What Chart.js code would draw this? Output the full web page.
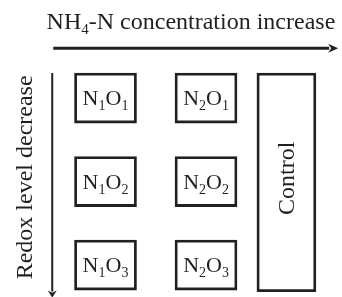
<!DOCTYPE html>
<html><head><meta charset="utf-8">
<script src="https://cdn.jsdelivr.net/npm/chart.js@4.4.0/dist/chart.umd.min.js"></script>
<style>html,body{margin:0;padding:0;background:#fff;overflow:hidden}#wrap{width:342px;height:297px;position:relative}</style>
</head><body><div id="wrap"><canvas id="c"></canvas></div>
<script>
// ---- data ----
const columns = ['N1', 'N2'];
const columnLevels = [1, 2];          // NH4-N level position of each treatment column
const rows = ['O1', 'O2', 'O3'];
const rowLevels = [1, 2, 3];          // redox level position of each row
const boxHalfHeight = 0.3;
const controlLabel = 'Control';
const controlLevel = 2.8;
const controlSpan = [0.7, 3.32];
const xTitle = [['NH', false], ['4', true], ['-N concentration increase', false]];
const xTitlePos = [1.85, 0.17];
const yTitle = 'Redox level decrease';
const yTitlePos = [0.19, 1.95];
const hArrow = {from: [0.48, 0.405], to: [3.315, 0.405]};
const vArrow = {from: [0.47, 0.70], to: [0.47, 3.39]};

const INK = '#231f20';
const FONT = "'Liberation Serif', 'Times New Roman', serif";
const MAIN = 24, SUB = 15, SUBDROP = 5;
const BOXF = 22, BOXSUB = 14, BOXDROP = 5;
const boxStyle = {backgroundColor: '#ffffff', borderColor: INK, borderWidth: 2.8, borderSkipped: false, grouped: false};

const rowDatasets = rows.map((r, ri) => Object.assign({
  label: r,
  data: columns.map((c, ci) => ({x: columnLevels[ci], y: [rowLevels[ri] - boxHalfHeight, rowLevels[ri] + boxHalfHeight]})),
  labels: columns.map(c => [[c[0], false], [c.slice(1), true], [r[0], false], [r.slice(1), true]]),
  barThickness: 62
}, boxStyle));
const controlDataset = Object.assign({
  label: controlLabel,
  data: [{x: controlLevel, y: controlSpan}],
  vertical: controlLabel,
  barThickness: 59
}, boxStyle);

function drawSegs(ctx, segs, cx, baseY, big, small, drop) {
  let w = 0;
  segs.forEach(([t, sub]) => { ctx.font = (sub ? small : big) + 'px ' + FONT; w += ctx.measureText(t).width; });
  let x = cx - w / 2;
  ctx.textAlign = 'left'; ctx.textBaseline = 'alphabetic';
  segs.forEach(([t, sub]) => {
    ctx.font = (sub ? small : big) + 'px ' + FONT;
    ctx.fillText(t, x, baseY + (sub ? drop : 0));
    x += ctx.measureText(t).width;
  });
}

const diagram = {
  id: 'diagram',
  afterDatasetsDraw(chart) {
    const ctx = chart.ctx, xs = chart.scales.x, ys = chart.scales.y;
    ctx.save();
    ctx.fillStyle = INK; ctx.strokeStyle = INK;
    chart.data.datasets.forEach((ds, di) => {
      const meta = chart.getDatasetMeta(di);
      meta.data.forEach((el, j) => {
        const cy = (el.y + el.base) / 2;
        if (ds.labels) {
          drawSegs(ctx, ds.labels[j], el.x, cy + BOXF * 0.33, BOXF, BOXSUB, BOXDROP);
        } else if (ds.vertical) {
          ctx.save();
          ctx.translate(el.x + MAIN * 0.33, cy - 4);
          ctx.rotate(-Math.PI / 2);
          ctx.font = MAIN + 'px ' + FONT; ctx.textAlign = 'center'; ctx.textBaseline = 'alphabetic';
          ctx.fillText(ds.vertical, 0, 0);
          ctx.restore();
        }
      });
    });
    drawSegs(ctx, xTitle, xs.getPixelForValue(xTitlePos[0]), ys.getPixelForValue(xTitlePos[1]), MAIN, SUB, SUBDROP);
    ctx.save();
    ctx.translate(xs.getPixelForValue(yTitlePos[0]) + MAIN * 0.33, ys.getPixelForValue(yTitlePos[1]));
    ctx.rotate(-Math.PI / 2);
    ctx.font = MAIN + 'px ' + FONT; ctx.textAlign = 'center'; ctx.textBaseline = 'alphabetic';
    ctx.fillText(yTitle, 0, 0);
    ctx.restore();
    function arrow(a, lw, head, half) {
      const x1 = xs.getPixelForValue(a.from[0]), y1 = ys.getPixelForValue(a.from[1]);
      const x2 = xs.getPixelForValue(a.to[0]), y2 = ys.getPixelForValue(a.to[1]);
      const ang = Math.atan2(y2 - y1, x2 - x1), c = Math.cos(ang), s = Math.sin(ang);
      const bx = x2 - c * head, by = y2 - s * head;
      ctx.lineWidth = lw; ctx.beginPath(); ctx.moveTo(x1, y1); ctx.lineTo(bx + c, by + s); ctx.stroke();
      ctx.beginPath(); ctx.moveTo(x2, y2);
      ctx.lineTo(bx - s * half, by + c * half);
      ctx.lineTo(bx + c * head * 0.3, by + s * head * 0.3);
      ctx.lineTo(bx + s * half, by - c * half);
      ctx.closePath(); ctx.fill();
    }
    arrow(hArrow, 3, 10, 4.5);
    arrow(vArrow, 2, 7, 4.5);
    ctx.restore();
  }
};

new Chart(document.getElementById('c'), {
  type: 'bar',
  data: {datasets: [...rowDatasets, controlDataset]},
  options: {
    responsive: true, maintainAspectRatio: false, animation: false,
    layout: {padding: 0},
    plugins: {legend: {display: false}, tooltip: {enabled: false}, colors: {enabled: false}},
    scales: {
      x: {type: 'linear', offset: false, min: -0.0498, max: 3.353, display: false},
      y: {type: 'linear', reverse: true, min: -0.174, max: 3.383, display: false}
    }
  },
  plugins: [diagram]
});
</script></body></html>
